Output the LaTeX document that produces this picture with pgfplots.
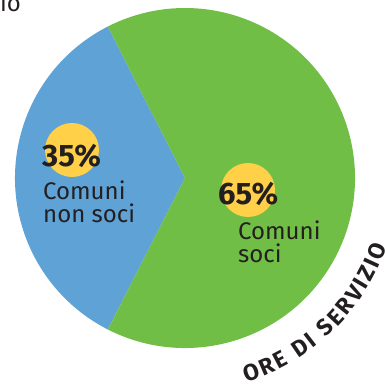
\documentclass[border=0pt]{standalone}
\usepackage{fontspec}
\setmainfont{Fira Sans}
\usepackage{pgfplots}
\usepackage{pgfplotstable}
\pgfplotsset{compat=1.18}
\usetikzlibrary{decorations.text}

\definecolor{nonsoci}{RGB}{94,162,214}
\definecolor{soci}{RGB}{112,190,70}
\definecolor{badge}{RGB}{255,208,72}
\definecolor{ink}{RGB}{35,31,32}

% share of service hours
\pgfplotstableread{
share group
35 nonsoci
65 soci
}\sharetable

\newcommand\arcfont{\fontsize{23bp}{23bp}\selectfont\bfseries}

\begin{document}
\begin{tikzpicture}[x=1bp,y=1bp]
\pgfplotstablegetelem{0}{share}\of\sharetable
\pgfmathsetmacro{\sA}{180-1.8*\pgfplotsretval}
\pgfmathsetmacro{\sB}{180+1.8*\pgfplotsretval}
\pgfmathsetmacro{\sC}{\sA+360}
\begin{axis}[scale only axis, width=385bp, height=386bp,
  xmin=0, xmax=385, ymin=0, ymax=386, hide axis, clip=false]
  \fill[nonsoci] (axis cs:185,208) -- ++(\sA:170bp)
     arc[start angle=\sA, end angle=\sB, radius=170bp] -- cycle;
  \fill[soci] (axis cs:185,208) -- ++(\sB:170bp)
     arc[start angle=\sB, end angle=\sC, radius=170bp] -- cycle;
  \fill[badge] (axis cs:72,236) circle[radius=27bp];
  \fill[badge] (axis cs:248,196) circle[radius=27bp];
  \node[anchor=base west, inner sep=0pt, text=ink,
        font=\fontsize{31bp}{31bp}\selectfont\bfseries] at (axis cs:42,219) {35\%};
  \node[anchor=base west, inner sep=0pt, text=ink,
        font=\fontsize{24bp}{24bp}\selectfont] at (axis cs:43,186) {Comuni};
  \node[anchor=base west, inner sep=0pt, text=ink,
        font=\fontsize{24bp}{24bp}\selectfont] at (axis cs:43,163) {non soci};
  \node[anchor=base west, inner sep=0pt, text=ink,
        font=\fontsize{31bp}{31bp}\selectfont\bfseries] at (axis cs:218,181) {65\%};
  \node[anchor=base west, inner sep=0pt, text=ink,
        font=\fontsize{24bp}{24bp}\selectfont] at (axis cs:238,146) {Comuni};
  \node[anchor=base west, inner sep=0pt, text=ink,
        font=\fontsize{24bp}{24bp}\selectfont] at (axis cs:238,123) {soci};
  \node[anchor=base east, inner sep=0pt, text=ink,
        font=\fontsize{24bp}{24bp}\selectfont] at (axis cs:21,374) {io};
\end{axis}
\path[decorate, decoration={text effects along path,
   text={ORE DI SERVIZIO}, text align=center,
   text effects/.cd, text along path,
   character widths={font=\arcfont, inner xsep=1.2bp},
   characters={text=ink, anchor=base, inner sep=0pt, font=\arcfont}}]
   (185,208) ++(-82:213) arc[start angle=-82, end angle=-10, radius=213];
\pgfresetboundingbox
\useasboundingbox (0,0) rectangle (385,386);
\end{tikzpicture}
\end{document}
